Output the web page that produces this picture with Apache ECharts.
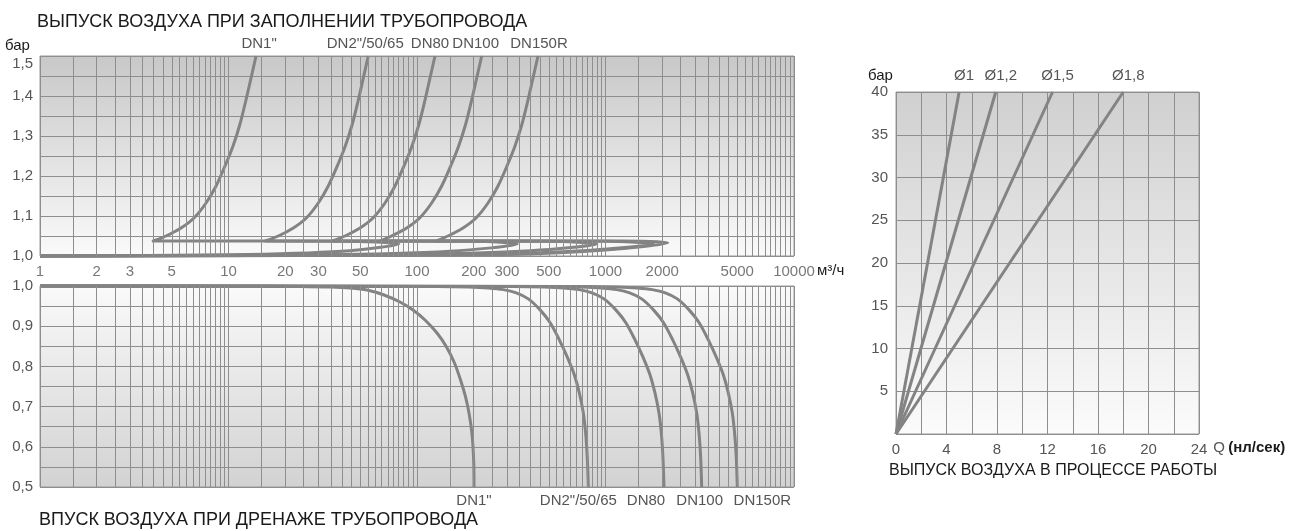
<!DOCTYPE html>
<html>
<head>
<meta charset="utf-8">
<script src="https://cdn.jsdelivr.net/npm/echarts@6/dist/echarts.min.js"></script>
<style>
html,body{margin:0;padding:0;background:#fff;}
#chart{width:1304px;height:531px;}
</style>
</head>
<body>
<div id="chart"></div>
<script>
// Flow rate tick labels, m³/h (shared by both pressure panels)
const flowTicks = [1, 2, 3, 5, 10, 20, 30, 50, 100, 200, 300, 500, 1000, 2000, 5000, 10000];
// Log grid: a line every half unit inside each decade
const gridMantissas = [1, 1.5, 2, 2.5, 3, 3.5, 4, 4.5, 5, 5.5, 6, 6.5, 7, 7.5, 8, 8.5, 9, 9.5];
const gridDecades = [1, 10, 100, 1000];
const gridEnd = 10000;

// Air release while filling: [flow m³/h, pressure bar]
const valveNames = ['DN1"', 'DN2"/50/65', 'DN80', 'DN100', 'DN150R'];
const fillDN1 = [[1, 1.0], [10, 1.003], [40, 1.012], [80, 1.03], [40, 1.037], [3.98, 1.0375], [4.66, 1.05], [5.6, 1.07], [6.56, 1.095], [7.6, 1.1325], [8.59, 1.175], [9.58, 1.225], [10.57, 1.275], [11.51, 1.33], [12.38, 1.39], [13.17, 1.445], [14.0, 1.5]];
const fillDN2 = [[1, 1.0], [30, 1.003], [150, 1.012], [340, 1.03], [200, 1.037], [15.67, 1.0375], [18.37, 1.05], [22.07, 1.07], [25.87, 1.095], [29.95, 1.1325], [33.83, 1.175], [37.77, 1.225], [41.65, 1.275], [45.38, 1.33], [48.83, 1.39], [51.89, 1.445], [55.15, 1.5]];
const fillDN80 = [[1, 1.0], [100, 1.004], [400, 1.013], [900, 1.03], [500, 1.037], [35.41, 1.0375], [41.5, 1.05], [49.85, 1.07], [58.42, 1.095], [67.65, 1.1325], [76.42, 1.175], [85.31, 1.225], [94.08, 1.275], [102.5, 1.33], [110.3, 1.39], [117.2, 1.445], [124.6, 1.5]];
const fillDN100 = [[1, 1.0], [200, 1.004], [800, 1.014], [1800, 1.03], [1000, 1.037], [64, 1.0375], [73.41, 1.05], [88.15, 1.07], [103.3, 1.095], [119.6, 1.1325], [135.2, 1.175], [150.9, 1.225], [166.4, 1.275], [181.3, 1.33], [195.1, 1.39], [207.4, 1.445], [220.4, 1.5]];
const fillDN150R = [[1, 1.0], [300, 1.004], [1000, 1.015], [2140, 1.033], [1200, 1.0372], [126, 1.0375], [146, 1.05], [175.4, 1.07], [205.6, 1.095], [238.1, 1.1325], [269, 1.175], [300.2, 1.225], [331.1, 1.275], [360.6, 1.33], [388, 1.39], [412.5, 1.445], [438.5, 1.5]];

// Air intake while draining: [flow m³/h, pressure bar]
const drainDN1 = [[1, 1.0], [14.7, 0.9998], [23.9, 0.999], [34.6, 0.9975], [44.1, 0.995], [54.3, 0.99], [66.8, 0.9776], [81.2, 0.9602], [95.2, 0.9403], [110.3, 0.9154], [127.7, 0.8831], [143.4, 0.8483], [158.1, 0.8085], [170.2, 0.7662], [180.4, 0.7264], [188.7, 0.6841], [195.3, 0.6368], [198.2, 0.5995], [200.1, 0.5547], [200.7, 0.5]];
const drainDN2 = [[1, 1.0], [129.7, 0.999], [187.2, 0.9975], [238.9, 0.995], [287, 0.991], [336.3, 0.983], [389.5, 0.968], [451, 0.94], [509.5, 0.908], [568.9, 0.866], [627.2, 0.823], [683.2, 0.779], [726.3, 0.734], [762.6, 0.684], [786.2, 0.629], [800.8, 0.572], [810.7, 0.5]];
const drainDN80 = [[1, 1.0], [326.9, 0.999], [471.8, 0.9975], [602.4, 0.995], [723.3, 0.991], [847.8, 0.983], [981.8, 0.968], [1137, 0.94], [1284.6, 0.908], [1434, 0.866], [1581, 0.823], [1722, 0.779], [1830, 0.734], [1922, 0.684], [1982, 0.629], [2018, 0.572], [2043, 0.5]];
const drainDN100 = [[1, 1.0], [518.2, 0.999], [747.5, 0.9975], [954.5, 0.995], [1146.7, 0.991], [1344, 0.983], [1556, 0.968], [1802, 0.94], [2036, 0.908], [2273, 0.866], [2505, 0.823], [2729, 0.779], [2901, 0.734], [3046, 0.684], [3141, 0.629], [3199, 0.572], [3238, 0.5]];
const drainDN150R = [[1, 1.0], [800.6, 0.999], [1155, 0.9975], [1475, 0.995], [1771, 0.991], [2076, 0.983], [2404, 0.968], [2783, 0.94], [3145, 0.908], [3511, 0.866], [3871, 0.823], [4216, 0.779], [4482, 0.734], [4707, 0.684], [4852, 0.629], [4942, 0.572], [5003, 0.5]];

// Air release in operation: [Q nl/s, pressure bar]
const orificeNames = ['Ø1', 'Ø1,2', 'Ø1,5', 'Ø1,8'];
const orificeD1 = [[0, 0], [5, 40]];
const orificeD12 = [[0, 0], [7.9, 40]];
const orificeD15 = [[0, 0], [12.4, 40]];
const orificeD18 = [[0, 0], [18, 40]];

const fillSeries = [fillDN1, fillDN2, fillDN80, fillDN100, fillDN150R];
const drainSeries = [drainDN1, drainDN2, drainDN80, drainDN100, drainDN150R];
const orificeSeries = [orificeD1, orificeD12, orificeD15, orificeD18];

// label nudges so neighbouring names do not collide
const fillLabelShift = [3, -3, -5, -6, 1];
const drainLabelShift = [0, -10, -18, -2, 25];

const FONT = 'Liberation Sans, Arial, Helvetica, sans-serif';
const CURVE = '#838383';
const GRIDLINE = '#8e8e8e';
const LABEL = '#555';

const logGridValues = [];
gridDecades.forEach(d => gridMantissas.forEach(m => logGridValues.push(m * d)));
logGridValues.push(gridEnd);

function vGrad(top, bottom) {
  return new echarts.graphic.LinearGradient(0, 0, 0, 1, [
    { offset: 0, color: top }, { offset: 1, color: bottom }
  ]);
}
const comma = v => v.toFixed(1).replace('.', ',');

function withEndLabel(points, text, opts) {
  return points.map((p, i) => {
    if (i !== points.length - 1) return p;
    return {
      value: p,
      label: Object.assign({ show: true, formatter: text, color: LABEL, fontSize: 15, fontFamily: FONT }, opts)
    };
  });
}

function curveSeries(points, axis, name, label, smooth) {
  return {
    type: 'line', name: name, xAxisIndex: axis, yAxisIndex: axis,
    data: withEndLabel(points, name, label),
    smooth: smooth,
    symbol: 'circle', symbolSize: 0, showSymbol: true, clip: false,
    lineStyle: { color: CURVE, width: 3, join: 'round' }, itemStyle: { color: CURVE },
    silent: true, z: 4
  };
}

function gridCarrier(axis) {
  return {
    type: 'line', xAxisIndex: axis, yAxisIndex: axis, data: [], z: 1, silent: true,
    markLine: {
      silent: true, symbol: ['none', 'none'], label: { show: false }, animation: false,
      lineStyle: { color: GRIDLINE, width: 1, type: 'solid' },
      emphasis: { disabled: true },
      data: logGridValues.map(v => ({ xAxis: v }))
    }
  };
}

const logXAxis = idx => ({
  gridIndex: idx, type: 'log', logBase: 10, min: 1, max: 10000,
  axisLine: { show: false }, axisTick: { show: false }, axisLabel: { show: false }, splitLine: { show: false }
});

const pressureYAxis = (idx, min, max, topLabelDown) => ({
  gridIndex: idx, type: 'value', min: min, max: max, interval: 0.1,
  axisLine: { show: false }, axisTick: { show: false },
  axisLabel: Object.assign({ formatter: comma, color: LABEL, fontSize: 15, margin: 7 },
    topLabelDown ? { verticalAlignMaxLabel: 'top' } : {}),
  splitLine: { lineStyle: { color: GRIDLINE, width: 1 } },
  minorTick: { show: false, splitNumber: 2 },
  minorSplitLine: { show: true, lineStyle: { color: GRIDLINE, width: 1 } }
});

const series = [gridCarrier(0), gridCarrier(1)];

fillSeries.forEach((pts, i) => {
  series.push(curveSeries(pts, 0, valveNames[i], { position: 'top', distance: 5, offset: [fillLabelShift[i], 0] }, 0.3));
});
drainSeries.forEach((pts, i) => {
  series.push(curveSeries(pts, 1, valveNames[i], { position: 'bottom', distance: 6, offset: [drainLabelShift[i], 0] }, 0.3));
});
orificeSeries.forEach((pts, i) => {
  series.push(curveSeries(pts, 2, orificeNames[i], { position: 'top', distance: 9, offset: [5, 0] }, false));
});

// flow labels between the two pressure panels
series.push({
  type: 'scatter', xAxisIndex: 0, yAxisIndex: 0, silent: true, clip: false,
  symbolSize: 0, z: 5,
  data: flowTicks.map(v => [v, 1.0]),
  label: { show: true, position: 'bottom', distance: 8, formatter: p => String(p.value[0]), color: LABEL, fontSize: 15, fontFamily: FONT }
});

const titleStyle = (size, color) => ({ fontSize: size, fontWeight: 'normal', color: color, fontFamily: FONT });

const option = {
  animation: false,
  textStyle: { fontFamily: FONT },
  title: [
    { text: 'ВЫПУСК ВОЗДУХА ПРИ ЗАПОЛНЕНИИ ТРУБОПРОВОДА', left: 37, top: 13, padding: 0, textStyle: titleStyle(18, '#1a1a1a') },
    { text: 'бар', left: 5, top: 38, padding: 0, textStyle: titleStyle(15, '#1a1a1a') },
    { text: 'ВПУСК ВОЗДУХА ПРИ ДРЕНАЖЕ ТРУБОПРОВОДА', left: 39, top: 511, padding: 0, textStyle: titleStyle(18, '#1a1a1a') },
    { text: 'м³/ч', left: 817, top: 263, padding: 0, textStyle: titleStyle(15, '#1a1a1a') },
    { text: 'бар', left: 868, top: 68, padding: 0, textStyle: titleStyle(15, '#1a1a1a') },
    { text: 'ВЫПУСК ВОЗДУХА В ПРОЦЕССЕ РАБОТЫ', left: 889, top: 463, padding: 0, textStyle: titleStyle(16, '#1a1a1a') }
  ],
  grid: [
    { left: 40, top: 56, width: 754, height: 200, show: true, backgroundColor: vGrad('#c8c8c8', '#fafafa'), borderColor: '#9a9a9a', borderWidth: 1 },
    { left: 40, top: 286, width: 754, height: 201, show: true, backgroundColor: vGrad('#fafafa', '#d2d2d2'), borderColor: '#9a9a9a', borderWidth: 1 },
    { left: 896, top: 92, width: 303, height: 342, show: true, backgroundColor: vGrad('#d0d0d0', '#fbfbfb'), borderColor: '#9a9a9a', borderWidth: 1 }
  ],
  xAxis: [
    logXAxis(0),
    logXAxis(1),
    {
      gridIndex: 2, type: 'value', min: 0, max: 24, interval: 4,
      axisLine: { show: false }, axisTick: { show: false },
      axisLabel: { color: LABEL, fontSize: 15, margin: 8 },
      splitLine: { lineStyle: { color: GRIDLINE, width: 1 } },
      minorTick: { show: false, splitNumber: 2 },
      minorSplitLine: { show: true, lineStyle: { color: GRIDLINE, width: 1 } },
      name: '{q|Q} {u|(нл/сек)}', nameLocation: 'end', nameGap: 13,
      nameTextStyle: {
        verticalAlign: 'top', padding: [6, 0, 0, 0],
        rich: {
          q: { color: LABEL, fontSize: 15, fontFamily: FONT },
          u: { color: '#1a1a1a', fontSize: 15, fontWeight: 'bold', fontFamily: FONT }
        }
      }
    }
  ],
  yAxis: [
    pressureYAxis(0, 1.0, 1.5, true),
    pressureYAxis(1, 0.5, 1.0, false),
    {
      gridIndex: 2, type: 'value', min: 0, max: 40, interval: 5,
      axisLine: { show: false }, axisTick: { show: false },
      axisLabel: { color: LABEL, fontSize: 15, margin: 8, formatter: v => (v === 0 ? '' : String(v)) },
      splitLine: { lineStyle: { color: GRIDLINE, width: 1 } }
    }
  ],
  series: series
};

const chart = echarts.init(document.getElementById('chart'), null, { renderer: 'canvas' });
chart.setOption(option);
</script>
</body>
</html>
